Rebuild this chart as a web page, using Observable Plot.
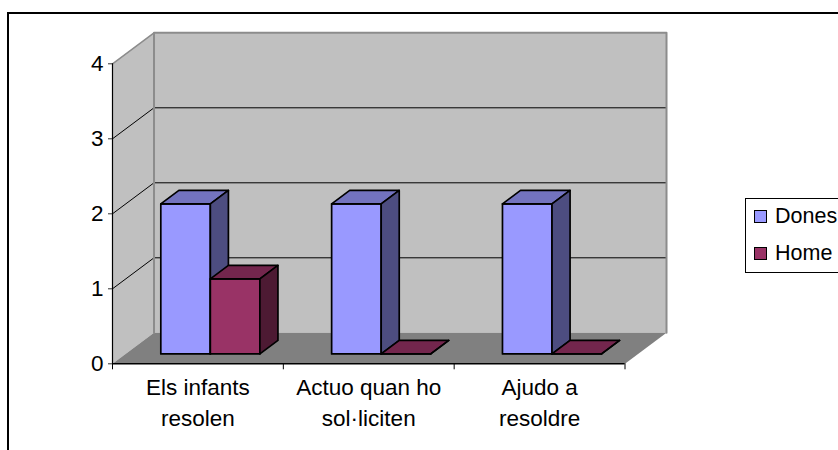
<!DOCTYPE html>
<html>
<head>
<meta charset="utf-8">
<script src="https://cdn.jsdelivr.net/npm/d3@7"></script>
<script src="https://cdn.jsdelivr.net/npm/@observablehq/plot@0.6"></script>
<style>
html,body{margin:0;padding:0;background:#fff;width:838px;height:450px;overflow:hidden}
#wrap{position:relative;width:838px;height:450px;overflow:hidden;font-family:"Liberation Sans",Arial,sans-serif}
#frame{position:absolute;left:7px;top:12px;width:900px;height:500px;border:2px solid #000}
#chart{position:absolute;left:0;top:0}
#legend{position:absolute;left:745px;top:198px;width:120px;height:73px;border:1px solid #000;background:#fff;color:#000;font-size:21.5px}
#legend div{position:absolute;left:29px;white-space:nowrap;line-height:24px}
#legend i{position:absolute;left:-21px;top:6px;width:10.5px;height:11px;border:1.3px solid #000}
</style>
</head>
<body>
<div id="wrap">
  <div id="frame"></div>
  <div id="chart"></div>
  <div id="legend"></div>
</div>
<script>
const categories = ["Els infants\nresolen", "Actuo quan ho\nsol·liciten", "Ajudo a\nresoldre"];
const seriesNames = ["Dones", "Home"];
const dones = [2, 2, 2];
const home = [1, 0, 0];
const yTicks = [0, 1, 2, 3, 4];
const palette = {
  Dones: {front: "#9999ff", top: "#7373bf", side: "#4d4d80"},
  Home: {front: "#993366", top: "#73264d", side: "#4d1a33"}
};
const wallColor = "#c0c0c0", floorColor = "#808080", wallEdge = "#8c8c8c";

// Oblique projection, in data units: full depth of the chart box
const depthX = 0.243, depthY = 0.4133;
const barNear = 0.32, barFar = 0.755, barStart = 0.205, barWidth = 0.29;

const P = (c, v, d) => ({x: c + d * depthX, y: v + d * depthY});
function poly(id, fill, pts) {
  return pts.map(p => ({id, fill, ...P(...p)}));
}
const cats = categories.length, yMax = 4;

const walls = [
  ...poly("back", wallColor, [[0,0,1],[cats,0,1],[cats,yMax,1],[0,yMax,1]]),
  ...poly("left", wallColor, [[0,0,0],[0,0,1],[0,yMax,1],[0,yMax,0]]),
  ...poly("floor", floorColor, [[0,0,0],[cats,0,0],[cats,0,1],[0,0,1]])
];
const backEdge = poly("edge", "none", [[0,0,1],[0,yMax,1],[cats,yMax,1],[cats,0,1]]);
const topLeftEdge = poly("tl", "none", [[0,yMax,0],[0,yMax,1]]);
const grid = yTicks.filter(v => v > 0 && v < yMax).flatMap(v =>
  poly("g" + v, "none", [[0,v,0],[0,v,1],[cats,v,1]]));

const faces = [];
categories.forEach((_, i) => {
  [["Dones", dones[i]], ["Home", home[i]]].forEach(([name, v], s) => {
    const a = i + barStart + s * barWidth, b = a + barWidth, col = palette[name], k = `${i}-${name}-`;
    faces.push(...poly(k + "front", col.front, [[a,0,barNear],[b,0,barNear],[b,v,barNear],[a,v,barNear]]));
    faces.push(...poly(k + "top", col.top, [[a,v,barNear],[b,v,barNear],[b,v,barFar],[a,v,barFar]]));
    faces.push(...poly(k + "side", col.side, [[b,0,barNear],[b,0,barFar],[b,v,barFar],[b,v,barNear]]));
  });
});
const labelRows = categories.map((label, i) => ({label, x: i + 0.5, y: 0}));

const svg = Plot.plot({
  width: 838, height: 450,
  marginLeft: 112, marginRight: 213.5, marginTop: 63.3, marginBottom: 86.7,
  style: {background: "transparent", fontFamily: '"Liberation Sans",Arial,sans-serif', overflow: "visible"},
  x: {domain: [0, cats], axis: null},
  y: {domain: [0, yMax], axis: null},
  marks: [
    Plot.line(walls, {x: "x", y: "y", z: "id", fill: "fill", stroke: "none", curve: "linear-closed"}),
    Plot.line(grid, {x: "x", y: "y", z: "id", stroke: "#000", strokeWidth: 1}),
    Plot.line(backEdge, {x: "x", y: "y", stroke: wallEdge, strokeWidth: 2}),
    Plot.line(topLeftEdge, {x: "x", y: "y", stroke: wallEdge, strokeWidth: 1.5}),
    Plot.ruleX([0], {y1: 0, y2: yMax, stroke: "#000", strokeWidth: 1.2}),
    Plot.ruleY([0], {x1: 0, x2: cats, stroke: "#000", strokeWidth: 1.6}),
    Plot.axisY({ticks: yTicks, tickFormat: d3.format("d"), anchor: "left", tickSize: 4, tickPadding: 5, fontSize: 22.5, stroke: "#333", color: "#000", label: null}),
    Plot.axisX({ticks: d3.range(cats + 1), tickFormat: () => "", anchor: "bottom", tickSize: 6, stroke: "#000", label: null}),
    Plot.line(faces, {x: "x", y: "y", z: "id", fill: "fill", stroke: "#000", strokeWidth: 1.7, strokeLinejoin: "round", curve: "linear-closed"}),
    Plot.text(labelRows, {x: "x", y: "y", text: "label", dy: 37, fontSize: 22.5, lineHeight: 1.36, lineAnchor: "middle", fill: "#000"})
  ]
});
document.getElementById("chart").appendChild(svg);

const legend = document.getElementById("legend");
seriesNames.forEach((name, i) => {
  const row = document.createElement("div");
  row.style.top = (5 + i * 37) + "px";
  row.textContent = name;
  const sw = document.createElement("i");
  sw.style.background = palette[name].front;
  row.appendChild(sw);
  legend.appendChild(row);
});
</script>
</body>
</html>
